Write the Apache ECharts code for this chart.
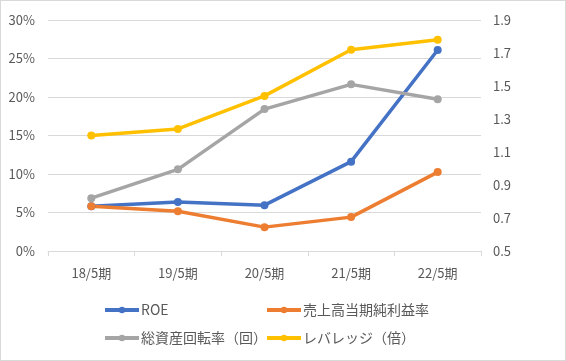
<!DOCTYPE html>
<html><head><meta charset="utf-8">
<script src="https://cdn.jsdelivr.net/npm/echarts@6/dist/echarts.min.js"></script>
<style>html,body{margin:0;padding:0;background:#fff}#c{width:564px;height:359px;border:1px solid #d9d9d9}</style>
</head><body><div id="c"></div>
<script>
const categories = ['18/5期','19/5期','20/5期','21/5期','22/5期'];
const roe = [5.8, 6.35, 5.95, 11.6, 26.1];
const margin = [5.8, 5.15, 3.1, 4.4, 10.25];
const turnover = [0.82, 0.995, 1.36, 1.51, 1.42];
const leverage = [1.20, 1.24, 1.44, 1.72, 1.78];
const names = ['ROE','売上高当期純利益率','総資産回転率（回）','レバレッジ（倍）'];
const colors = ['#4472C4','#ED7D31','#A5A5A5','#FFC000'];
const font = '"Noto Sans CJK JP", sans-serif';
const chart = echarts.init(document.getElementById('c'));
const mk = (i, data, yi) => ({
  name: names[i], type: 'line', data: data, yAxisIndex: yi,
  symbol: 'circle', symbolSize: 8, lineStyle: {width: 3.5, color: colors[i]},
  itemStyle: {color: colors[i]}, animation: false
});
const legendPos = [[102, 302], [264, 302], [102, 330], [264, 330]];
chart.setOption({
  color: colors,
  textStyle: {fontFamily: font},
  grid: {left: 47, right: 84, top: 19, bottom: 109},
  legend: legendPos.map((p, i) => ({
    data: [names[i]], left: p[0], top: p[1], padding: 0, itemWidth: 34, itemHeight: 8, itemGap: 0,
    lineStyle: {width: 4},
    textStyle: {fontFamily: font, fontSize: 14, color: '#595959', padding: [0,0,0,-3]}
  })),
  xAxis: {
    type: 'category', data: categories, boundaryGap: true,
    axisLine: {lineStyle: {color: '#d9d9d9'}},
    axisTick: {show: true, length: 5, lineStyle: {color: '#d9d9d9'}},
    axisLabel: {color: '#595959', fontSize: 13, margin: 16, fontFamily: font}
  },
  yAxis: [{
    type: 'value', min: 0, max: 30, interval: 5,
    axisLabel: {formatter: '{value}%', color: '#595959', fontSize: 13, margin: 13, fontFamily: font},
    splitLine: {lineStyle: {color: '#d9d9d9'}}, axisLine: {show: false}, axisTick: {show: false}
  }, {
    type: 'value', min: 0.5, max: 1.9, interval: 0.2,
    axisLabel: {formatter: v => v.toFixed(1), color: '#595959', fontSize: 13, margin: 12, fontFamily: font},
    splitLine: {show: false}, axisLine: {show: false}, axisTick: {show: false}
  }],
  series: [mk(0, roe, 0), mk(1, margin, 0), mk(2, turnover, 1), mk(3, leverage, 1)]
});
</script></body></html>
